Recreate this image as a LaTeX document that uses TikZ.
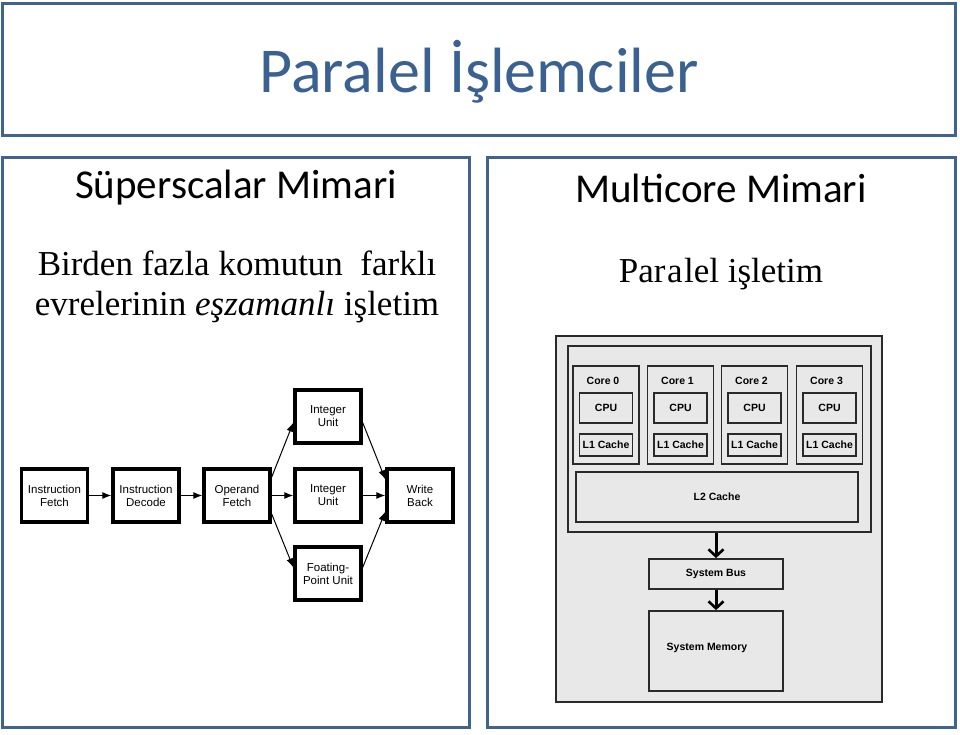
\documentclass[tikz,border=0pt]{standalone}
\usepackage{fontspec}
\setmainfont{Liberation Serif}
\setsansfont{Liberation Sans}
\newfontfamily\calibri{Carlito}
\usetikzlibrary{arrows.meta,positioning,calc}
\definecolor{slideblue}{HTML}{41648F}
\definecolor{titleblue}{HTML}{3A6192}
\definecolor{chipgray}{HTML}{E8E8E8}
\definecolor{chipline}{HTML}{2A2A2A}
\tikzset{panel/.style={draw=slideblue, line width=3pt}}
\tikzset{stage/.style={draw, line width=3.4pt, minimum width=66pt, minimum height=53pt,
		align=center, inner sep=1pt, font=\sffamily\fontsize{11.5}{13}\selectfont}}
\tikzset{pipe/.style={-{Latex[length=9pt,width=7pt]}, line width=1pt}}
\tikzset{hwbox/.style={draw=chipline, line width=1.8pt, fill=chipgray, inner sep=0pt,
		font=\sffamily\bfseries\fontsize{10.5}{12}\selectfont}}
\tikzset{hwlabel/.style={inner sep=0pt, font=\sffamily\bfseries\fontsize{10.5}{12}\selectfont}}
\tikzset{busarrow/.style={-{Straight Barb[length=7pt,width=15pt,line width=2.6pt]}, line width=3pt}}

\begin{document}
\begin{tikzpicture}[x=1pt, y=-1pt]
	\useasboundingbox (0,0) rectangle (960,734);
	
	% title and the two panels
	\draw[panel] (2,3) rectangle (955,135);
	\node[text=titleblue, font=\calibri\fontsize{64}{70}\selectfont] (title) at (479,72) {Paralel İşlemciler};
	\draw[panel] (2,157) rectangle (469,727);
	\draw[panel] (487,157) rectangle (955,727);
	
	\node[font=\calibri\fontsize{41}{46}\selectfont] (superhead) at (236,188) {Süperscalar Mimari};
	\node[align=center, font=\fontsize{35}{40}\selectfont] (supertext) at (237,287)
	{Birden fazla komutun\ \ farklı\\evrelerinin \textit{eşzamanlı} işletim};
	\node[font=\calibri\fontsize{41}{46}\selectfont] (multihead) at (721,188) {Multicore Mimari};
	\node[font=\fontsize{35}{40}\selectfont] (multitext) at (721,274) {Par\kern1.5pt a\kern1.5pt lel işletim};
	
	% superscalar pipeline
	\node[stage] (fetch) at (54.5,495.5) {Instruction\\Fetch};
	\node[stage] (decode) at (146,495.5) {Instruction\\Decode};
	\node[stage] (opfetch) at (237,495.5) {Operand\\Fetch};
	\node[stage] (intmid) at (328,495.5) {Integer\\Unit};
	\node[stage] (inttop) at (328,416.5) {Integer\\Unit};
	\node[stage] (fpu) at (328,573.5) {Foating-\\Point Unit};
	\node[stage] (wback) at (420,495.5) {Write\\Back};
	
	\draw[pipe] (fetch) -- (decode);
	\draw[pipe] (decode) -- (opfetch);
	\draw[pipe] (opfetch) -- (intmid);
	\draw[pipe] (intmid) -- (wback);
	\draw[pipe] (opfetch.28) -- (inttop.190);
	\draw[pipe] (opfetch.-28) -- (fpu.170);
	\draw[pipe] (inttop.-10) -- (wback.155);
	\draw[pipe] (fpu.10) -- (wback.205);
	
	% multicore chip
	\node[hwbox, line width=2.2pt, minimum width=326pt, minimum height=366pt] (chip) at (719,519) {};
	\node[hwbox, minimum width=303pt, minimum height=186pt] (cpuarea) at (719.5,439) {};
	\foreach \i/\x in {0/606,1/680.5,2/754.5,3/829.5}{
		\node[hwbox, minimum width=66pt, minimum height=98pt] (core\i) at (\x,415) {};
		\node[hwlabel] (corelbl\i) at (\x-3,381) {Core \i};
		\node[hwbox, minimum width=53pt, minimum height=30pt] (cpu\i) at (\x,408) {CPU};
		\node[hwbox, minimum width=53pt, minimum height=22pt] (lone\i) at (\x,445) {L1 Cache};
	}
	\node[hwbox, minimum width=282pt, minimum height=50pt] (ltwo) at (717,497) {L2 Cache};
	\node[hwbox, minimum width=134pt, minimum height=30pt] (bus) at (716,574) {System Bus};
	\node[hwbox, minimum width=134pt, minimum height=80pt] (mem) at (716,651) {};
	\node[hwlabel] (memlbl) at (707,648) {System Memory};
	
	\draw[busarrow] (bus.north |- cpuarea.south) -- (bus.north);
	\draw[busarrow] (bus.south) -- (mem.north);
\end{tikzpicture}
\end{document}
